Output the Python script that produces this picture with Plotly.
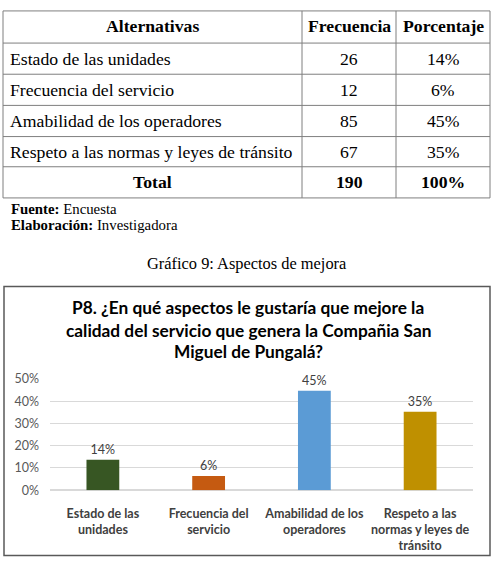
import plotly.graph_objects as go

W, H = 501, 577

# ---- data ----
alternativas = ["Estado de las unidades", "Frecuencia del servicio",
                "Amabilidad de los operadores", "Respeto a las normas y leyes de tránsito"]
frecuencia = [26, 12, 85, 67]
porcentaje_txt = ["14%", "6%", "45%", "35%"]
total_frec = "190"
total_pct = "100%"

categorias = ["Estado de las<br>unidades", "Frecuencia del<br>servicio",
              "Amabilidad de los<br>operadores", "Respeto a las<br>normas y leyes de<br>tránsito"]
valores_pct = [13.68, 6.32, 44.74, 35.26]
etiquetas = ["14%", "6%", "45%", "35%"]
colores = ["#375623", "#c55a11", "#5b9bd5", "#bf9000"]
y_ticks = [0, 10, 20, 30, 40, 50]
y_ticklabels = ["0%", "10%", "20%", "30%", "40%", "50%"]

titulo = ["P8. ¿En qué aspectos le gustaría que mejore la",
          "calidad del servicio que genera la Compañia San",
          "Miguel de Pungalá?"]


def px(x):
    return x / W


def py(y):
    return 1 - y / H


SANS = "Lato"
SERIF = "'Liberation Serif', 'Times New Roman', 'DejaVu Serif', serif"
line_col = "#7f7f7f"

fig = go.Figure()
fig.add_trace(go.Bar(
    x=categorias, y=valores_pct, marker=dict(color=colores, line=dict(width=0)),
    text=etiquetas, textposition="outside", cliponaxis=False,
    textfont=dict(family=SANS, size=12.5, color="#404040"),
    hoverinfo="skip"))

shapes = []
annotations = []

# ---- table ----
tx0, tx1, tx2, tx3 = 3, 302, 396, 490
rows_y = [3, 36, 68, 100, 132, 163, 195]
for y in rows_y:
    shapes.append(dict(type="line", xref="paper", yref="paper", x0=px(tx0), x1=px(tx3),
                       y0=py(y), y1=py(y), line=dict(color=line_col, width=1)))
for x in [tx0, tx1, tx2, tx3]:
    shapes.append(dict(type="line", xref="paper", yref="paper", x0=px(x), x1=px(x),
                       y0=py(rows_y[0]), y1=py(rows_y[-1]), line=dict(color=line_col, width=1)))


def txt(x, y, s, size=16, bold=False, anchor="center", family=SERIF, color="black"):
    annotations.append(dict(xref="paper", yref="paper", x=px(x), y=py(y), text=s,
                            showarrow=False, xanchor=anchor, yanchor="middle",
                            font=dict(family=family, size=size, color=color,
                                      weight="bold" if bold else "normal")))


TS = 17.7
c1 = (tx0 + tx1) / 2
c2 = (tx1 + tx2) / 2
c3 = (tx2 + tx3) / 2
txt(c1, 18, "Alternativas", size=TS, bold=True)
txt(c2, 18, "Frecuencia", size=TS, bold=True)
txt(c3, 18, "Porcentaje", size=TS, bold=True)
for i in range(4):
    yc = (rows_y[i + 1] + rows_y[i + 2]) / 2
    txt(8, yc, alternativas[i], size=TS, anchor="left")
    txt(c2, yc, str(frecuencia[i]), size=TS)
    txt(c3, yc, porcentaje_txt[i], size=TS)
yc = (rows_y[5] + rows_y[6]) / 2
txt(c1, yc, "Total", size=TS, bold=True)
txt(c2, yc, total_frec, size=TS, bold=True)
txt(c3, yc, total_pct, size=TS, bold=True)

txt(9, 206, "<b>Fuente:</b> Encuesta", size=14.8, anchor="left")
txt(9, 223, "<b>Elaboración:</b> Investigadora", size=14.8, anchor="left")
txt(247, 262, "Gráfico 9: Aspectos de mejora", size=16.4)

# ---- chart box ----
shapes.append(dict(type="rect", xref="paper", yref="paper", x0=px(4), x1=px(490),
                   y0=py(286), y1=py(562), line=dict(color="#595959", width=1.5)))
for yy, s in zip([308, 331, 353], titulo):
    txt(248, yy, s, size=17.3, bold=True, family=SANS, color="#000000")

fig.update_layout(
    width=W, height=H, margin=dict(l=0, r=0, t=0, b=0),
    paper_bgcolor="white", plot_bgcolor="white", showlegend=False,
    bargap=0.69, shapes=shapes, annotations=annotations,
    xaxis=dict(domain=[px(50), px(473)],
               tickfont=dict(family=SANS, size=12.5, color="#404040", weight="bold"),
               showline=False, ticks="", showgrid=False, ticklabelstandoff=14),
    yaxis=dict(domain=[py(495), py(381)], range=[0, 50], tickvals=y_ticks, ticktext=y_ticklabels,
               tickfont=dict(family=SANS, size=12.5, color="#595959"),
               showgrid=True, gridcolor="#d9d9d9", gridwidth=1, zeroline=True, zerolinecolor="#d9d9d9",
               ticks="", showline=False, ticklabelstandoff=10),
)

fig.write_html("out.html")
